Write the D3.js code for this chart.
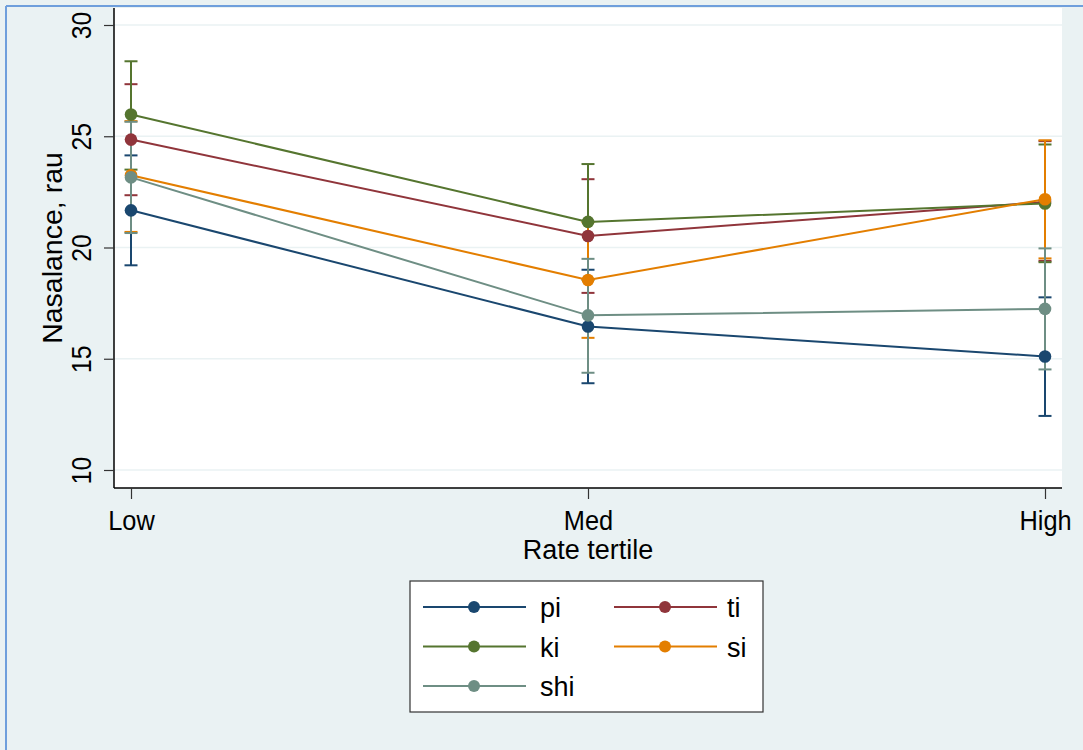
<!DOCTYPE html>
<html><head><meta charset="utf-8">
<script src="https://cdn.jsdelivr.net/npm/d3@7"></script>
<style>body{margin:0;background:#eaf2f3;}svg{display:block;font-family:"Liberation Sans",Arial,sans-serif;}</style>
</head><body>
<svg id="c" width="1083" height="750"></svg>
<script>
const categories = ["Low", "Med", "High"];
const seriesNames = ["pi", "ti", "ki", "si", "shi"];
const colors = ["#1a476f", "#90353b", "#55752f", "#e37e00", "#6e8e84"];
const piMean = [21.67, 16.45, 15.1];
const piLo = [19.2, 13.9, 12.43];
const piHi = [24.14, 19.0, 17.76];
const tiMean = [24.85, 20.52, 22.05];
const tiLo = [22.35, 17.96, 19.4];
const tiHi = [27.34, 23.07, 24.78];
const kiMean = [25.98, 21.15, 21.98];
const kiLo = [23.5, 18.55, 19.34];
const kiHi = [28.37, 23.75, 24.63];
const siMean = [23.25, 18.54, 22.17];
const siLo = [20.7, 15.94, 19.51];
const siHi = [25.68, 21.14, 24.82];
const shiMean = [23.15, 16.95, 17.24];
const shiLo = [20.65, 14.37, 14.52];
const shiHi = [25.65, 19.49, 19.96];
const yTicks = [10, 15, 20, 25, 30];

const series = [
  {name: "pi", mean: piMean, lo: piLo, hi: piHi},
  {name: "ti", mean: tiMean, lo: tiLo, hi: tiHi},
  {name: "ki", mean: kiMean, lo: kiLo, hi: kiHi},
  {name: "si", mean: siMean, lo: siLo, hi: siHi},
  {name: "shi", mean: shiMean, lo: shiLo, hi: shiHi}
];

const svg = d3.select("#c");
svg.append("rect").attr("x",0).attr("y",0).attr("width",1083).attr("height",750).attr("fill","#eaf2f3");
svg.append("line").attr("x1",6).attr("x2",1083).attr("y1",6).attr("y2",6).attr("stroke","#6f9fdc").attr("stroke-width",2);
svg.append("line").attr("x1",6).attr("x2",6).attr("y1",6).attr("y2",750).attr("stroke","#6f9fdc").attr("stroke-width",2);

const L = 114, R = 1062, T = 8, B = 488;
svg.append("rect").attr("x",L).attr("y",T).attr("width",R-L).attr("height",B-T).attr("fill","#ffffff");

const x = d3.scalePoint().domain(categories).range([131, 1045]);
const y = d3.scaleLinear().domain([10, 30]).range([470, 25]);

svg.append("g").selectAll("line").data(yTicks).join("line")
  .attr("x1", L).attr("x2", R).attr("y1", d => y(d)).attr("y2", d => y(d))
  .attr("stroke", "#eaf2f3").attr("stroke-width", 1.5);

const yAxis = svg.append("g").attr("transform", `translate(${L},0)`)
  .call(d3.axisLeft(y).tickValues(yTicks).tickSize(10));
yAxis.select(".domain").attr("d", `M0,${T}V${B}`).attr("stroke","#000").attr("stroke-width",1.5);
yAxis.selectAll(".tick line").attr("stroke","#333").attr("stroke-width",1.2);
yAxis.selectAll(".tick text")
  .attr("x", 0).attr("y", 0).attr("dy", "0")
  .attr("transform", "translate(-23,0) rotate(-90) scale(0.88,1)")
  .attr("text-anchor","middle")
  .attr("font-size", 28).attr("fill","#000")
  .attr("font-family","Liberation Sans, Arial, sans-serif");

const xAxis = svg.append("g").attr("transform", `translate(0,${B})`)
  .call(d3.axisBottom(x).tickSize(11));
xAxis.select(".domain").attr("d", `M${L},0H${R}`).attr("stroke","#000").attr("stroke-width",1.5);
xAxis.selectAll(".tick line").attr("stroke","#333").attr("stroke-width",1.2);
xAxis.selectAll(".tick text").attr("y", 42).attr("dy","0")
  .attr("font-size", 27).attr("fill","#000")
  .attr("transform","scale(0.94,1)")
  .attr("font-family","Liberation Sans, Arial, sans-serif");

svg.append("text").attr("transform","translate(62,248) rotate(-90)").attr("text-anchor","middle")
  .attr("font-size",28.5).attr("fill","#000").text("Nasalance, rau");
svg.append("text").attr("x",588).attr("y",559).attr("text-anchor","middle")
  .attr("font-size",27).attr("fill","#000").text("Rate tertile");

const capW = 6.5;
series.forEach((s, i) => {
  const g = svg.append("g").attr("stroke", colors[i]).attr("stroke-width", 2).attr("fill","none");
  categories.forEach((c, j) => {
    const cx = x(c);
    g.append("line").attr("x1",cx).attr("x2",cx).attr("y1",y(s.lo[j])).attr("y2",y(s.hi[j]));
    g.append("line").attr("x1",cx-capW).attr("x2",cx+capW).attr("y1",y(s.lo[j])).attr("y2",y(s.lo[j]));
    g.append("line").attr("x1",cx-capW).attr("x2",cx+capW).attr("y1",y(s.hi[j])).attr("y2",y(s.hi[j]));
  });
});

const line = d3.line().x((d,j) => x(categories[j])).y(d => y(d));
series.forEach((s, i) => {
  svg.append("path").datum(s.mean).attr("d", line).attr("fill","none")
    .attr("stroke", colors[i]).attr("stroke-width", 2);
});
series.forEach((s, i) => {
  svg.append("g").selectAll("circle").data(s.mean).join("circle")
    .attr("cx", (d,j) => x(categories[j])).attr("cy", d => y(d)).attr("r", 6.3)
    .attr("fill", colors[i]);
});

const lg = svg.append("g");
lg.append("rect").attr("x",410).attr("y",581).attr("width",353).attr("height",131)
  .attr("fill","#fff").attr("stroke","#333").attr("stroke-width",1.2);
const legPos = [[0,0],[1,0],[0,1],[1,1],[0,2]];
seriesNames.forEach((n, i) => {
  const col = legPos[i][0], row = legPos[i][1];
  const x0 = col === 0 ? 423 : 614;
  const yy = 607 + row * 39.5;
  lg.append("line").attr("x1",x0).attr("x2",x0+103).attr("y1",yy).attr("y2",yy)
    .attr("stroke",colors[i]).attr("stroke-width",2);
  lg.append("circle").attr("cx",x0+51).attr("cy",yy).attr("r",6).attr("fill",colors[i]);
  lg.append("text").attr("x", col === 0 ? 540 : 727).attr("y", yy + 10)
    .attr("font-size",27).attr("fill","#000").text(n);
});
</script>
</body></html>
